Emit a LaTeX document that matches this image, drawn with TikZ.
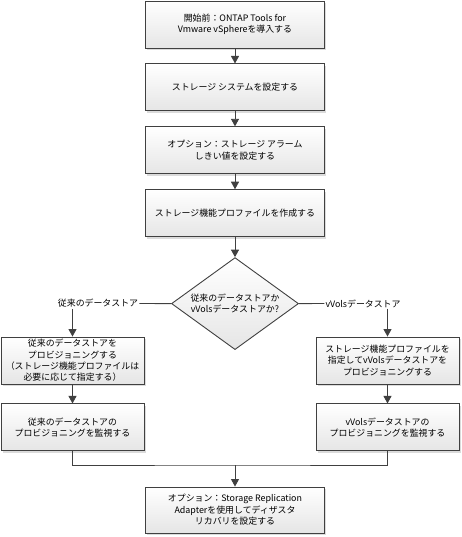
\documentclass[tikz,border=0pt]{standalone}
\usepackage{fontspec}
\setmainfont{Noto Sans CJK JP}
\usepackage{tikz}
\usetikzlibrary{positioning}
\usetikzlibrary{shapes.geometric}
\usetikzlibrary{shadows}
\usetikzlibrary{arrows.meta}

\definecolor{edgegray}{HTML}{404040}

\tikzset{
  procbox/.style={draw=edgegray,line width=0.9pt,top color=white,bottom color=black!10,
    drop shadow={shadow xshift=1.8pt,shadow yshift=-2pt,fill=black!14,opacity=1},
    minimum width=179pt,minimum height=47pt,align=center,inner sep=2pt,
    font=\fontsize{8.9}{11.4}\selectfont},
  sidebox/.style={procbox,minimum width=143pt},
  decision/.style={diamond,draw=edgegray,line width=0.9pt,top color=white,bottom color=black!10,
    aspect=1.38,minimum width=127pt,minimum height=92pt,inner sep=0pt,align=center,
    font=\fontsize{8.9}{11.4}\selectfont},
  branch/.style={font=\fontsize{8.9}{11.4}\selectfont,inner sep=1pt},
  flow/.style={draw=edgegray,line width=0.9pt,-{Triangle[width=8pt,length=7.5pt]}},
  link/.style={draw=edgegray,line width=0.9pt}
}

\begin{document}
\begin{tikzpicture}[x=1pt,y=1pt]
\useasboundingbox (0,0) rectangle (462,-537);

\node[procbox] (start) at (235,-24.5) {開始前：ONTAP Tools for\\Vmware vSphereを導入する};
\node[procbox,below=15pt of start] (storsys) {ストレージ システムを設定する};
\node[procbox,below=15pt of storsys] (alarm) {オプション：ストレージ アラーム\\しきい値を設定する};
\node[procbox,below=15pt of alarm] (profile) {ストレージ機能プロファイルを作成する};

\node[decision,below=20pt of profile] (choice) {従来のデータストアか\\vVolsデータストアか?};

\node[branch] (tradlbl) at (98,-303.5) {従来のデータストア};
\node[branch] (vvollbl) at (363,-303.5) {vVolsデータストア};

\node[sidebox] (tradprov) at (72.5,-360.5) {従来のデータストアを\\プロビジョニングする\\（ストレージ機能プロファイルは\\必要に応じて指定する）};
\node[sidebox] (vvolprov) at (387.5,-360.5) {ストレージ機能プロファイルを\\指定してvVolsデータストアを\\プロビジョニングする};

\node[sidebox,below=19pt of tradprov] (tradmon) {従来のデータストアの\\プロビジョニングを監視する};
\node[sidebox,below=19pt of vvolprov] (vvolmon) {vVolsデータストアの\\プロビジョニングを監視する};

\coordinate (merge) at (235,-465);
\node[procbox,minimum height=46pt] (sra) at (235,-510) {オプション：Storage Replication\\Adapterを使用してディザスタ\\リカバリを設定する};

\draw[flow] (start) -- (storsys);
\draw[flow] (storsys) -- (alarm);
\draw[flow] (alarm) -- (profile);
\draw[flow] (profile) -- (choice);

\draw[link] (choice.west) -- (tradlbl.east);
\draw[link] (choice.east) -- (vvollbl.west);
\draw[flow] (tradlbl.south -| tradprov.north) -- (tradprov.north);
\draw[flow] (vvollbl.south -| vvolprov.north) -- (vvolprov.north);

\draw[flow] (tradprov) -- (tradmon);
\draw[flow] (vvolprov) -- (vvolmon);

\draw[link] (tradmon.south) |- (merge) -| (vvolmon.south);
\draw[flow] (merge) -- (sra);
\end{tikzpicture}
\end{document}
